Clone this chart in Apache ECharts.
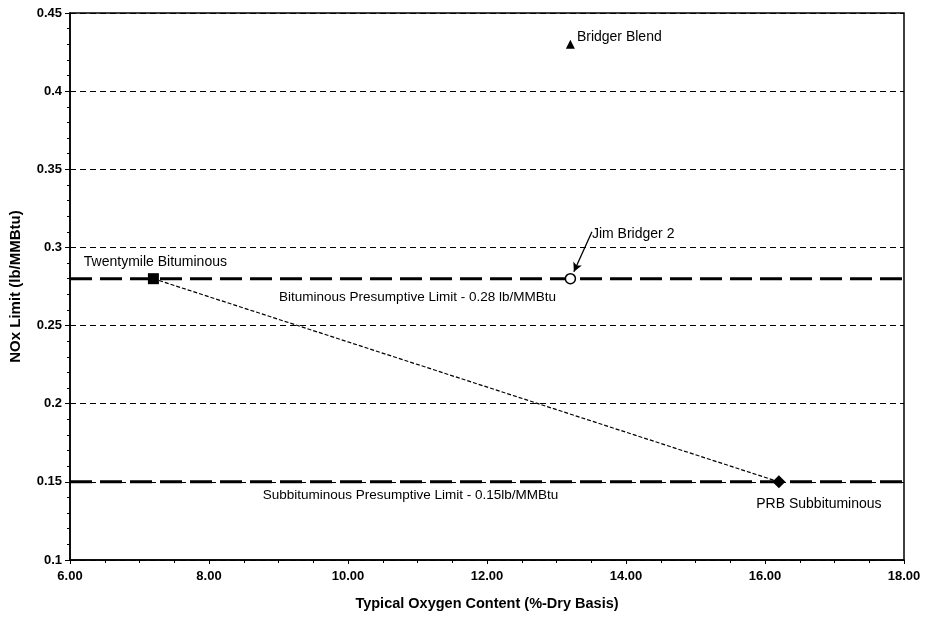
<!DOCTYPE html>
<html>
<head>
<meta charset="utf-8">
<script src="https://cdn.jsdelivr.net/npm/echarts@6/dist/echarts.min.js"></script>
<style>
  html, body { margin: 0; padding: 0; background: #fff; }
  #chart { width: 927px; height: 622px; }
</style>
</head>
<body>
<div id="chart"></div>
<script>
// Coal samples: typical oxygen content (%-dry) vs NOx limit (lb/MMBtu)
const coalNames = ['Twentymile Bituminous', 'Jim Bridger 2', 'Bridger Blend', 'PRB Subbituminous'];
const oxygenPct = [7.2, 13.2, 13.2, 16.2];
const noxLimit = [0.28, 0.28, 0.43, 0.15];

// Presumptive limits drawn across the full x range
const limitNames = ['Bituminous Presumptive Limit - 0.28 lb/MMBtu', 'Subbituminous Presumptive Limit - 0.15lb/MMBtu'];
const limitValues = [0.28, 0.15];
const limitLabelX = [11.0, 10.9];

// Axis ranges
const xRange = [6, 18];
const yRange = [0.1, 0.45];

const FONT = 'Liberation Sans, Arial, sans-serif';
const ink = '#000';

const series = [];

// Thick dashed presumptive limit lines
limitValues.forEach((v, i) => {
  series.push({
    type: 'line',
    data: [[xRange[0], v], [xRange[1], v]],
    symbol: 'none',
    silent: true,
    lineStyle: { color: ink, width: 3, type: [22, 8] },
    z: 3
  });
  series.push({
    type: 'scatter',
    data: [[limitLabelX[i], v]],
    symbolSize: 0,
    silent: true,
    itemStyle: { opacity: 1 },
    label: {
      show: true, position: 'bottom', distance: i === 0 ? 12 : 6,
      formatter: limitNames[i],
      fontFamily: FONT, fontSize: 13.5, color: ink, opacity: 1
    }
  });
});

// Dashed connector between the two reference coals
series.push({
  type: 'line',
  data: [[oxygenPct[0], noxLimit[0]], [oxygenPct[3], noxLimit[3]]],
  symbol: 'none',
  silent: true,
  lineStyle: { color: ink, width: 1.2, type: [4, 2] },
  z: 4
});

// Individual coal markers and their labels
const markerStyles = [
  { symbol: 'rect', size: 11, fill: ink, label: { position: 'top', distance: 4, offset: [2, 0] } },
  { symbol: 'circle', size: 10, fill: '#fff', label: { show: false } },
  { symbol: 'triangle', size: 9, fill: ink, label: { position: 'right', distance: 2, offset: [0, -7] } },
  { symbol: 'diamond', size: 13, fill: ink, label: { position: 'bottom', distance: 8, offset: [40, 1] } }
];
coalNames.forEach((name, i) => {
  const m = markerStyles[i];
  series.push({
    type: 'scatter',
    name: name,
    data: [[oxygenPct[i], noxLimit[i]]],
    symbol: m.symbol,
    symbolSize: m.size,
    itemStyle: { color: m.fill, borderColor: ink, borderWidth: m.fill === '#fff' ? 1.5 : 0, opacity: 1 },
    label: Object.assign({
      show: true, formatter: name, fontFamily: FONT, fontSize: 14, color: ink, opacity: 1
    }, m.label),
    z: 6
  });
});

// Call-out arrow for Jim Bridger 2
const arrowFrom = [13.51, 0.310];
const arrowTo = [13.25, 0.2845];
series.push({
  type: 'scatter',
  data: [arrowFrom],
  symbolSize: 0,
  silent: true,
  itemStyle: { opacity: 1 },
  label: { show: true, position: 'right', distance: 0, offset: [0, 2], formatter: coalNames[1],
    fontFamily: FONT, fontSize: 14, color: ink, opacity: 1 },
  markLine: {
    silent: true,
    symbol: ['none', 'arrow'],
    symbolSize: [7, 9],
    label: { show: false },
    lineStyle: { color: ink, width: 1.3, type: 'solid' },
    data: [[{ coord: arrowFrom }, { coord: arrowTo }]]
  },
  z: 7
});

const chart = echarts.init(document.getElementById('chart'));
chart.setOption({
  animation: false,
  backgroundColor: '#fff',
  grid: {
    left: 70, right: 23, top: 13, bottom: 62,
    show: true, borderColor: ink, borderWidth: 1.5, backgroundColor: 'transparent'
  },
  xAxis: {
    type: 'value',
    min: xRange[0], max: xRange[1], interval: 2,
    name: 'Typical Oxygen Content (%-Dry Basis)',
    nameLocation: 'middle', nameGap: 36,
    nameTextStyle: { fontFamily: FONT, fontSize: 14.5, fontWeight: 'bold', color: ink },
    axisLine: { show: true, onZero: false, lineStyle: { color: ink, width: 1.5 } },
    axisTick: { show: true, length: 4, lineStyle: { color: ink, width: 1 } },
    minorTick: { show: true, splitNumber: 4, length: 3, lineStyle: { color: ink, width: 1 } },
    axisLabel: { fontFamily: FONT, fontSize: 13, fontWeight: 'bold', color: ink, margin: 10, formatter: v => v.toFixed(2) },
    splitLine: { show: false }
  },
  yAxis: {
    type: 'value',
    min: yRange[0], max: yRange[1], interval: 0.05,
    name: 'NOx Limit (lb/MMBtu)',
    nameLocation: 'middle', nameGap: 47,
    nameTextStyle: { fontFamily: FONT, fontSize: 15, fontWeight: 'bold', color: ink },
    axisLine: { show: true, lineStyle: { color: ink, width: 1.5 } },
    axisTick: { show: true, length: 5, lineStyle: { color: ink, width: 1 } },
    minorTick: { show: true, splitNumber: 5, length: 3, lineStyle: { color: ink, width: 1 } },
    axisLabel: { fontFamily: FONT, fontSize: 13, fontWeight: 'bold', color: ink, margin: 8,
      formatter: v => String(parseFloat(v.toFixed(2))) },
    splitLine: { show: true, lineStyle: { color: ink, width: 1, type: [6, 4] } }
  },
  series: series
});
</script>
</body>
</html>
